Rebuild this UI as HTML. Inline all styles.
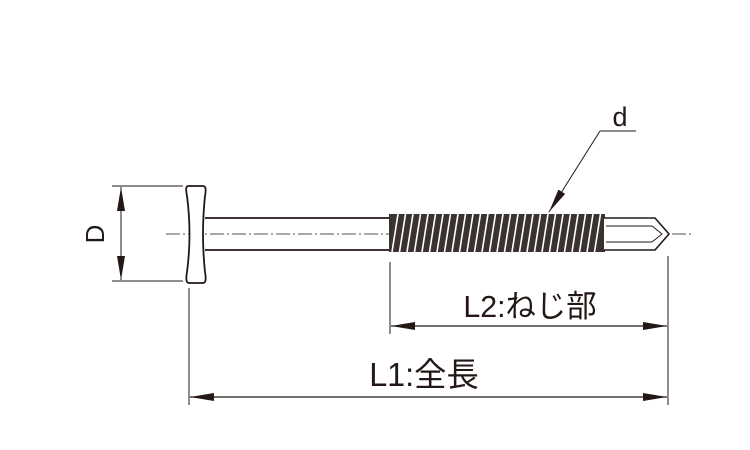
<!DOCTYPE html>
<html><head><meta charset="utf-8"><style>
html,body{margin:0;padding:0;background:#fff;}
svg{display:block;}
text{font-family:"Liberation Sans","Noto Sans CJK JP",sans-serif;fill:#231815;}
</style></head><body>
<svg width="750" height="450" viewBox="0 0 750 450" xmlns="http://www.w3.org/2000/svg">
<defs>
<marker id="a" viewBox="0 0 24 8" refX="24" refY="4" markerWidth="24" markerHeight="8" orient="auto" markerUnits="userSpaceOnUse"><path d="M0,0 L24,4 L0,8 Z" fill="#231815"/></marker>
</defs>
<g stroke="#231815" fill="none">
<line x1="166" y1="234" x2="694" y2="234" stroke-width="0.8" stroke-dasharray="14,3,2,3"/>
<path d="M188,186 L203,186 Q207,186 205,196 Q201,234 205,272 Q207,283 203,283 L189,283 Q185,283 187,272 Q192,234 187,196 Q185,186 188,186 Z" stroke-width="1.8" fill="#fff"/>
<line x1="205" y1="218" x2="392" y2="218" stroke-width="1.8"/>
<line x1="205" y1="250" x2="392" y2="250" stroke-width="1.8"/>
<rect x="389" y="214" width="216" height="38" fill="#3a3230" stroke="none"/>
<g stroke="#fff" stroke-width="1.6">
<line x1="392" y1="252" x2="398" y2="214"/><line x1="399.5" y1="252" x2="405.5" y2="214"/><line x1="407" y1="252" x2="413" y2="214"/><line x1="414.5" y1="252" x2="420.5" y2="214"/><line x1="422" y1="252" x2="428" y2="214"/><line x1="429.5" y1="252" x2="435.5" y2="214"/><line x1="437" y1="252" x2="443" y2="214"/><line x1="444.5" y1="252" x2="450.5" y2="214"/><line x1="452" y1="252" x2="458" y2="214"/><line x1="459.5" y1="252" x2="465.5" y2="214"/><line x1="467" y1="252" x2="473" y2="214"/><line x1="474.5" y1="252" x2="480.5" y2="214"/><line x1="482" y1="252" x2="488" y2="214"/><line x1="489.5" y1="252" x2="495.5" y2="214"/><line x1="497" y1="252" x2="503" y2="214"/><line x1="504.5" y1="252" x2="510.5" y2="214"/><line x1="512" y1="252" x2="518" y2="214"/><line x1="519.5" y1="252" x2="525.5" y2="214"/><line x1="527" y1="252" x2="533" y2="214"/><line x1="534.5" y1="252" x2="540.5" y2="214"/><line x1="542" y1="252" x2="548" y2="214"/><line x1="549.5" y1="252" x2="555.5" y2="214"/><line x1="557" y1="252" x2="563" y2="214"/><line x1="564.5" y1="252" x2="570.5" y2="214"/><line x1="572" y1="252" x2="578" y2="214"/><line x1="579.5" y1="252" x2="585.5" y2="214"/><line x1="587" y1="252" x2="593" y2="214"/><line x1="594.5" y1="252" x2="600.5" y2="214"/>
</g>
<path d="M604,218 L655,218 L669,234 L655,250 L604,250" stroke-width="1.6" fill="#fff"/>
<line x1="606" y1="226" x2="652" y2="226" stroke-width="1"/>
<line x1="606" y1="242" x2="652" y2="242" stroke-width="1"/>
<path d="M652,226 L662,234 L652,242" stroke-width="1"/>
<line x1="112" y1="186" x2="183" y2="186" stroke-width="1"/>
<line x1="112" y1="281" x2="183" y2="281" stroke-width="1"/>
<line x1="121" y1="234" x2="121" y2="187" stroke-width="1" marker-end="url(#a)"/>
<line x1="121" y1="234" x2="121" y2="280" stroke-width="1" marker-end="url(#a)"/>
<line x1="189" y1="288" x2="189" y2="405" stroke-width="1"/>
<line x1="390" y1="262" x2="390" y2="334" stroke-width="1"/>
<line x1="668" y1="256" x2="668" y2="405" stroke-width="1"/>
<line x1="530" y1="326" x2="391" y2="326" stroke-width="1.2" marker-end="url(#a)"/>
<line x1="530" y1="326" x2="667" y2="326" stroke-width="1.2" marker-end="url(#a)"/>
<line x1="430" y1="397" x2="190" y2="397" stroke-width="1.2" marker-end="url(#a)"/>
<line x1="430" y1="397" x2="667" y2="397" stroke-width="1.2" marker-end="url(#a)"/>
<line x1="636" y1="131" x2="600" y2="131" stroke-width="1"/>
<line x1="600" y1="131" x2="549" y2="212" stroke-width="1" marker-end="url(#a)"/>
</g>
<text x="0" y="0" font-size="27" text-anchor="middle" transform="translate(620,126)">d</text>
<text transform="translate(104,234) rotate(-90)" font-size="26" text-anchor="middle">D</text>
<text x="0" y="0" font-size="31" text-anchor="middle" transform="translate(530,317) scale(0.98,1)">L2:ねじ部</text>
<text x="0" y="0" font-size="33" text-anchor="middle" transform="translate(424,386) scale(0.98,1)">L1:全長</text>
</svg>
</body></html>
